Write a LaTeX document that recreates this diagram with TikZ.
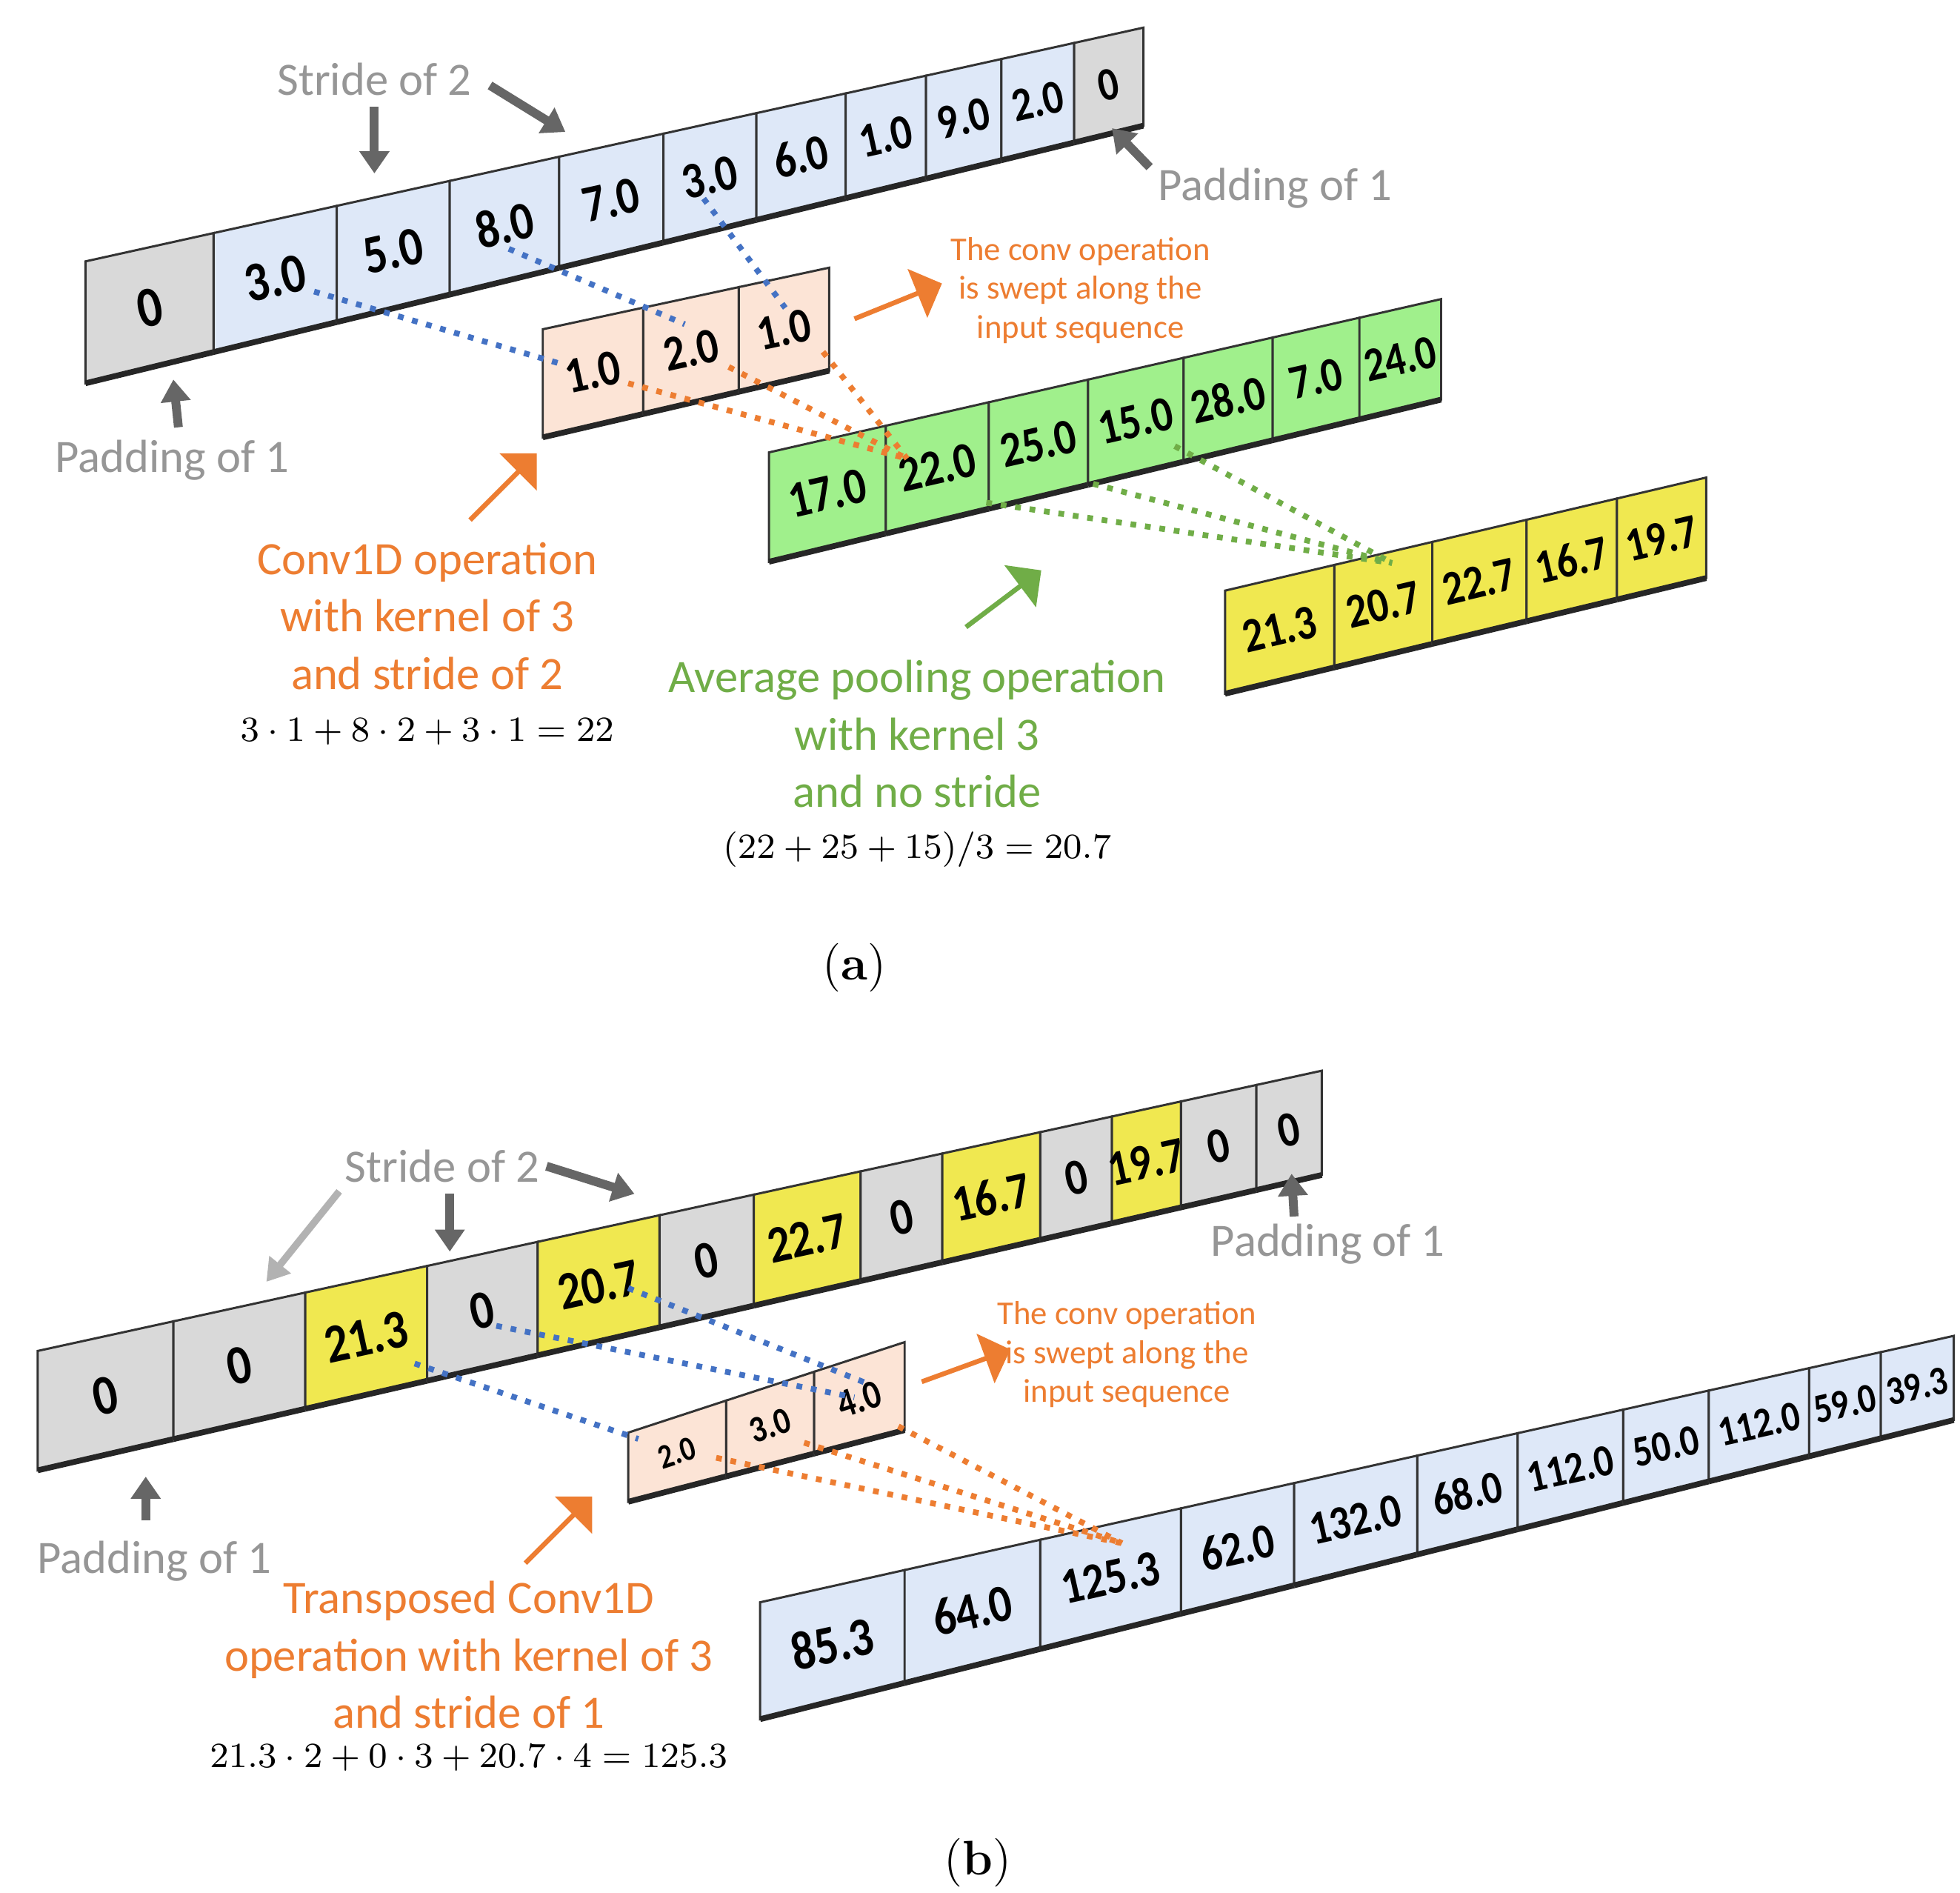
\documentclass[tikz,border=0pt]{standalone}
\usepackage{fontspec}
\newfontfamily\carl{Carlito}
\usetikzlibrary{shapes.arrows,arrows.meta}
\definecolor{cgray}{RGB}{217,217,217}
\definecolor{cblue}{RGB}{222,232,248}
\definecolor{cpeach}{RGB}{252,228,214}
\definecolor{cgreen}{RGB}{160,240,140}
\definecolor{cyel}{RGB}{240,232,80}
\definecolor{tgray}{RGB}{150,150,150}
\definecolor{torange}{RGB}{237,125,49}
\definecolor{tgreen}{RGB}{112,173,71}
\definecolor{dblue}{RGB}{68,114,196}
\tikzset{
 lbl/.style={font=\carl\fontsize{10.5}{13}\selectfont,align=center,inner sep=0},
 big/.style={font=\carl\fontsize{10.5}{13}\selectfont,align=center,inner sep=0},
 small/.style={font=\carl\fontsize{7.5}{8.8}\selectfont,align=center,inner sep=0,text=torange},
 garrow/.style={draw=gray!80!black,line width=2pt,-{Triangle[length=5pt,width=6.5pt]}},
 lgarrow/.style={draw=gray!60,line width=1.6pt,-{Triangle[length=5pt,width=6pt]}},
 barrow/.style={single arrow,minimum height=0.75cm,minimum width=0.42cm,single arrow head extend=0.07cm,inner sep=0,draw=none},
 dotl/.style={dotted,line width=1.3pt},
 frm/.style={font=\fontsize{8}{10}\selectfont,inner sep=0},
}
\newcommand\stripgeo[6]{\def\SXa{#1}\def\STa{#2}\def\SBa{#3}\def\SXb{#4}\def\STb{#5}\def\SBb{#6}}
\newcommand\cellbox[5]{%
 \pgfmathsetmacro\fa{(#1-\SXa)/(\SXb-\SXa)}%
 \pgfmathsetmacro\fb{(#2-\SXa)/(\SXb-\SXa)}%
 \pgfmathsetmacro\ta{\STa+(\STb-\STa)*\fa}%
 \pgfmathsetmacro\ba{\SBa+(\SBb-\SBa)*\fa}%
 \pgfmathsetmacro\tb{\STa+(\STb-\STa)*\fb}%
 \pgfmathsetmacro\bb{\SBa+(\SBb-\SBa)*\fb}%
 \pgfmathsetmacro\cx{(#1+#2)/2}%
 \pgfmathsetmacro\cy{(\ta+\tb+\ba+\bb)/4}%
 \pgfmathsetmacro\fs{0.135*(\ba-\ta+\bb-\tb)/2}%
 \pgfmathsetmacro\ang{atan((\STa-\STb)/(\SXb-\SXa))}%
 \filldraw[fill=#4,draw=black!80,line width=0.5pt] (#1,\ta) -- (#2,\tb) -- (#2,\bb) -- (#1,\ba) -- cycle;
 \draw[line width=1.3pt,black!85] (#1,\ba) -- (#2,\bb);
 \node[rotate=\ang,xscale=0.85,inner sep=0,font=\carl\bfseries\fontsize{\fs}{\fs}\selectfont] (#5) at (\cx,\cy) {#3};
}
\begin{document}
\begin{tikzpicture}[x=0.01cm,y=-0.01cm]
\useasboundingbox[fill=white] (0,0) rectangle (1560,1506);
% strip a1
\stripgeo{68}{208}{305}{910}{22}{100}
\foreach \xa/\xb/\v/\c [count=\i] in {68/170/0/cgray,170/268/3.0/cblue,268/358/5.0/cblue,358/445/8.0/cblue,445/528/7.0/cblue,528/602/3.0/cblue,602/673/6.0/cblue,673/737/1.0/cblue,737/797/9.0/cblue,797/855/2.0/cblue,855/910/0/cgray}{\cellbox{\xa}{\xb}{\v}{\c}{a\i}}
% kernel a
\stripgeo{432}{262}{348}{660}{213}{295}
\foreach \xa/\xb/\v/\c [count=\i] in {432/512/1.0/cpeach,512/588/2.0/cpeach,588/660/1.0/cpeach}{\cellbox{\xa}{\xb}{\v}{\c}{k\i}}
% green
\stripgeo{612}{360}{447}{1147}{238}{318}
\foreach \xa/\xb/\v/\c [count=\i] in {612/705/17.0/cgreen,705/787/22.0/cgreen,787/866/25.0/cgreen,866/942/15.0/cgreen,942/1013/28.0/cgreen,1013/1082/7.0/cgreen,1082/1147/24.0/cgreen}{\cellbox{\xa}{\xb}{\v}{\c}{g\i}}
% yellow
\stripgeo{975}{470}{552}{1358}{380}{460}
\foreach \xa/\xb/\v/\c [count=\i] in {975/1062/21.3/cyel,1062/1140/20.7/cyel,1140/1215/22.7/cyel,1215/1287/16.7/cyel,1287/1358/19.7/cyel}{\cellbox{\xa}{\xb}{\v}{\c}{y\i}}
% strip b1
\stripgeo{30}{1075}{1170}{1052}{852}{935}
\foreach \xa/\xb/\v/\c [count=\i] in {30/138/0/cgray,138/243/0/cgray,243/340/21.3/cyel,340/428/0/cgray,428/525/20.7/cyel,525/600/0/cgray,600/685/22.7/cyel,685/750/0/cgray,750/828/16.7/cyel,828/885/0/cgray,885/940/19.7/cyel,940/1000/0/cgray,1000/1052/0/cgray}{\cellbox{\xa}{\xb}{\v}{\c}{b\i}}
% kernel b
\stripgeo{500}{1140}{1195}{720}{1068}{1138}
\foreach \xa/\xb/\v/\c [count=\i] in {500/578/2.0/cpeach,578/648/3.0/cpeach,648/720/4.0/cpeach}{\cellbox{\xa}{\xb}{\v}{\c}{q\i}}
% output b
\stripgeo{605}{1275}{1368}{1555}{1063}{1130}
\foreach \xa/\xb/\v/\c [count=\i] in {605/720/85.3/cblue,720/828/64.0/cblue,828/940/125.3/cblue,940/1030/62.0/cblue,1030/1128/132.0/cblue,1128/1208/68.0/cblue,1208/1292/112.0/cblue,1292/1360/50.0/cblue,1360/1440/112.0/cblue,1440/1497/59.0/cblue,1497/1555/39.3/cblue}{\cellbox{\xa}{\xb}{\v}{\c}{o\i}}

% dotted connectors (a)
\coordinate (pa1) at (250,232); \coordinate (pk1) at (448,290);
\coordinate (pa2) at (405,198); \coordinate (pk2) at (545,258);
\coordinate (pa3) at (560,158); \coordinate (pk3) at (625,245);
\draw[dotl,dblue] (pa1) -- (pk1); \draw[dotl,dblue] (pa2) -- (pk2); \draw[dotl,dblue] (pa3) -- (pk3);
\coordinate (qk1) at (500,305); \coordinate (qk2) at (580,292); \coordinate (qk3) at (655,280);
\coordinate (tg) at (722,365);
\foreach \p in {qk1,qk2,qk3} \draw[dotl,torange] (\p) -- (tg);
\coordinate (qg1) at (785,400); \coordinate (qg2) at (870,385); \coordinate (qg3) at (935,355);
\coordinate (ty) at (1108,448);
\foreach \p in {qg1,qg2,qg3} \draw[dotl,tgreen] (\p) -- (ty);
% dotted connectors (b)
\coordinate (pb1) at (330,1085); \coordinate (pq1) at (508,1145);
\coordinate (pb2) at (395,1055); \coordinate (pq2) at (680,1112);
\coordinate (pb3) at (500,1025); \coordinate (pq3) at (688,1100);
\draw[dotl,dblue] (pb1) -- (pq1); \draw[dotl,dblue] (pb2) -- (pq2); \draw[dotl,dblue] (pb3) -- (pq3);
\coordinate (rq1) at (570,1160); \coordinate (rq2) at (640,1148); \coordinate (rq3) at (715,1135);
\coordinate (to) at (893,1228);
\foreach \p in {rq1,rq2,rq3} \draw[dotl,torange] (\p) -- (to);

% labels (a)
\node[lbl,text=tgray] (s2a) at (298,63) {Stride of 2};
\coordinate (s2a1) at (298,85); \coordinate (s2a2) at (298,138);
\coordinate (s2a3) at (390,68); \coordinate (s2a4) at (450,105);
\draw[garrow] (s2a1) -- (s2a2); \draw[garrow] (s2a3) -- (s2a4);
\node[lbl,text=tgray] (pra) at (1015,150) {Padding of 1};
\coordinate (pra1) at (915,133); \coordinate (pra2) at (885,102);
\draw[garrow] (pra1) -- (pra2);
\node[lbl,text=tgray] (pla) at (137,366) {Padding of 1};
\coordinate (pla1) at (142,340); \coordinate (pla2) at (138,302);
\draw[garrow] (pla1) -- (pla2);
\node[barrow,fill=torange,rotate=22] (oa1) at (714,240) {};
\node[small] (swa) at (860,231) {The conv operation\\is swept along the\\input sequence};
\node[barrow,fill=torange,rotate=45] (oa2) at (400,388) {};
\node[big,text=torange] (cva) at (340,490) {Conv1D operation\\with kernel of 3\\and stride of 2};
\node[frm] (fa) at (340,582) {$3\cdot1+8\cdot2+3\cdot1=22$};
\node[barrow,fill=tgreen,rotate=37] (ga) at (798,477) {};
\node[big,text=tgreen] (apa) at (730,584) {Average pooling operation\\with kernel 3\\and no stride};
\node[frm] (fga) at (730,676) {$(22+25+15)/3=20.7$};
\node[inner sep=0,font=\fontsize{11}{13}\selectfont] (la) at (680,770) {(\textbf{a})};

% labels (b)
\node[lbl,text=tgray] (s2b) at (352,928) {Stride of 2};
\coordinate (s2b1) at (270,948); \coordinate (s2b2) at (212,1020);
\coordinate (s2b3) at (358,950); \coordinate (s2b4) at (358,996);
\coordinate (s2b5) at (435,928); \coordinate (s2b6) at (505,950);
\draw[lgarrow] (s2b1) -- (s2b2); \draw[garrow] (s2b3) -- (s2b4); \draw[garrow] (s2b5) -- (s2b6);
\node[lbl,text=tgray] (prb) at (1057,990) {Padding of 1};
\coordinate (prb1) at (1030,968); \coordinate (prb2) at (1028,934);
\draw[garrow] (prb1) -- (prb2);
\node[lbl,text=tgray] (plb) at (123,1242) {Padding of 1};
\coordinate (plb1) at (116,1210); \coordinate (plb2) at (116,1175);
\draw[garrow] (plb1) -- (plb2);
\node[barrow,fill=torange,rotate=20] (ob1) at (768,1087) {};
\node[small] (swb) at (897,1078) {The conv operation\\is swept along the\\input sequence};
\node[barrow,fill=torange,rotate=45] (ob2) at (444,1218) {};
\node[big,text=torange] (cvb) at (373,1317) {Transposed Conv1D\\operation with kernel of 3\\and stride of 1};
\node[frm] (fb) at (373,1399) {$21.3\cdot2+0\cdot3+20.7\cdot4=125.3$};
\node[inner sep=0,font=\fontsize{11}{13}\selectfont] (lb) at (778,1482) {(\textbf{b})};
\end{tikzpicture}
\end{document}
